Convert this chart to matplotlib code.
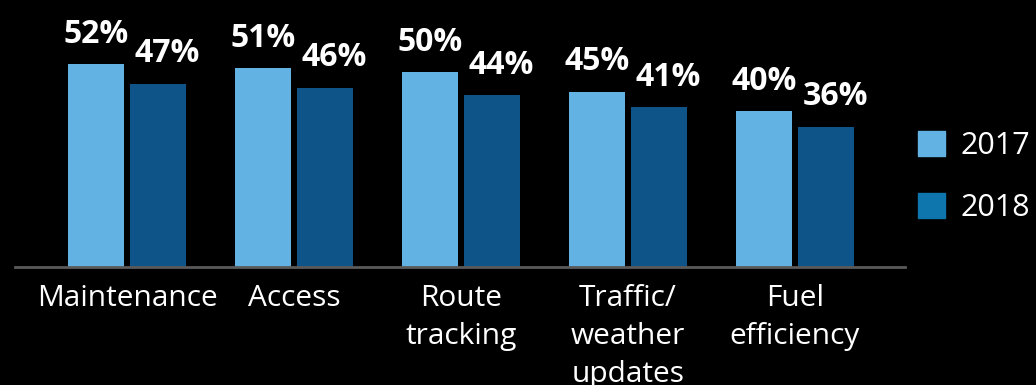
import matplotlib.pyplot as plt
from matplotlib.patches import Patch
import numpy as np

plt.rcParams['font.family'] = ['Open Sans', 'DejaVu Sans']

categories = ['Maintenance', 'Access', 'Route\ntracking', 'Traffic/\nweather\nupdates', 'Fuel\nefficiency']
vals_2017 = [52, 51, 50, 45, 40]
vals_2018 = [47, 46, 44, 41, 36]
series_names = ['2017', '2018']

light = '#62b3e3'
dark = '#0e5488'
legend_dark = '#0f75ad'

fig = plt.figure(figsize=(10.36, 3.85), dpi=100, facecolor='black')
ax = fig.add_axes([15 / 1036, 118 / 385, 890 / 1036, 267 / 385])
ax.set_facecolor('black')

x = np.arange(len(categories))
off = 0.186
w = 0.335
b1 = ax.bar(x - off, vals_2017, w, color=light)
b2 = ax.bar(x + off, vals_2018, w, color=dark)

# the 2018 labels sit a little right of their bars in the original
for bars, vals, dx in ((b1, vals_2017, 0), (b2, vals_2018, 6.5)):
    for b, v in zip(bars, vals):
        ax.annotate(f'{v}%', (b.get_x() + b.get_width() / 2, v), xytext=(dx, 15.5),
                    textcoords='offset points', ha='center', va='baseline',
                    color='white', fontsize=23, fontweight='bold')

ax.set_xlim(-0.671, 4.659)
ax.set_ylim(0, 68.5)
ax.set_xticks(x)
ax.set_xticklabels(categories, color='white', fontsize=21.5, linespacing=1.42)
ax.tick_params(axis='x', length=0, pad=12)
ax.set_yticks([])
for s in ['top', 'right', 'left']:
    ax.spines[s].set_visible(False)
ax.spines['bottom'].set_color('#5a5a5a')
ax.spines['bottom'].set_linewidth(2)

handles = [Patch(color=light), Patch(color=legend_dark)]
fig.legend(handles, series_names, loc='upper left', bbox_to_anchor=(890 / 1036, 1 - 103 / 385),
           frameon=False, fontsize=22, labelcolor='white', handlelength=0.9, handleheight=0.9,
           handletextpad=0.5, labelspacing=1.05)

fig.savefig('out.png', facecolor='black')
